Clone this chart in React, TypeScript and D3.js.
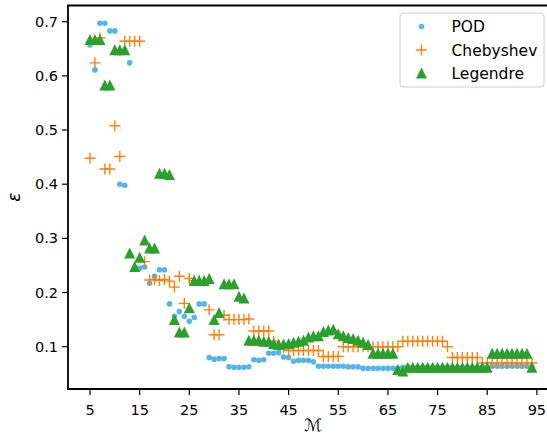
import React from "react";
import * as d3 from "d3";

const M = [5,6,7,8,9,10,11,12,13,14,15,16,17,18,19,20,21,22,23,24,25,26,27,28,29,30,31,32,33,34,35,36,37,38,39,40,41,42,43,44,45,46,47,48,49,50,51,52,53,54,55,56,57,58,59,60,61,62,63,64,65,66,67,68,69,70,71,72,73,74,75,76,77,78,79,80,81,82,83,84,85,86,87,88,89,90,91,92,93,94];

const POD = [0.657,0.611,0.697,0.697,0.683,0.683,0.400,0.398,0.624,0.245,
  0.245,0.247,0.217,0.230,0.242,0.242,0.179,0.156,0.165,0.156,
  0.147,0.154,0.179,0.179,0.080,0.077,0.078,0.078,0.063,0.062,
  0.062,0.062,0.063,0.076,0.075,0.076,0.088,0.088,0.089,0.081,
  0.080,0.073,0.075,0.075,0.075,0.072,0.064,0.064,0.064,0.064,
  0.064,0.064,0.063,0.063,0.063,0.060,0.060,0.060,0.060,0.060,
  0.060,0.060,0.060,0.062,0.062,0.062,0.062,0.062,0.062,0.062,
  0.062,0.062,0.062,0.062,0.062,0.062,0.062,0.062,0.062,0.062,
  0.062,0.064,0.064,0.064,0.064,0.064,0.064,0.064,0.064,0.063];

const CHEB = [0.448,0.624,0.670,0.428,0.428,0.508,0.451,0.664,0.664,0.664,
  0.664,0.257,0.223,0.224,0.222,0.224,0.221,0.210,0.230,0.180,
  0.226,0.222,0.222,0.221,0.168,0.122,0.122,0.158,0.150,0.150,
  0.150,0.150,0.151,0.129,0.129,0.129,0.129,0.110,0.104,0.098,
  0.093,0.093,0.093,0.093,0.093,0.093,0.093,0.082,0.082,0.082,
  0.082,0.100,0.100,0.100,0.100,0.100,0.100,0.100,0.100,0.100,
  0.100,0.100,0.100,0.110,0.110,0.110,0.110,0.110,0.110,0.110,
  0.110,0.110,0.100,0.080,0.080,0.080,0.080,0.080,0.080,0.070,
  0.070,0.070,0.070,0.070,0.070,0.070,0.070,0.070,0.070,0.070];

const LEG = [0.667,0.667,0.667,0.583,0.583,0.648,0.648,0.648,0.273,0.248,
  0.265,0.297,0.282,0.282,0.420,0.420,0.418,0.150,0.127,0.127,
  0.172,0.222,0.222,0.222,0.226,0.150,0.163,0.216,0.216,0.216,
  0.193,0.190,0.112,0.112,0.112,0.110,0.110,0.106,0.104,0.105,
  0.106,0.108,0.110,0.112,0.118,0.120,0.120,0.128,0.131,0.132,
  0.124,0.120,0.117,0.115,0.112,0.108,0.104,0.088,0.088,0.088,
  0.088,0.088,0.058,0.055,0.062,0.062,0.062,0.062,0.062,0.062,
  0.062,0.062,0.062,0.062,0.062,0.062,0.062,0.062,0.062,0.062,
  0.062,0.088,0.088,0.088,0.088,0.088,0.088,0.088,0.088,0.062];

const X_TICKS = [5,15,25,35,45,55,65,75,85,95];
const Y_TICKS = [0.1,0.2,0.3,0.4,0.5,0.6,0.7];
const LABELS = ["POD","Chebyshev","Legendre"];

const BLUE = "#56B4E9";
const ORANGE = "#ff7f0e";
const GREEN = "#2ca02c";
const FONT = "DejaVu Sans";

const W = 547, H = 437;
const left = 68, top = 5.5, bottom = 389, right = 554;

export default function App() {
  const x = d3.scaleLinear().domain([0.57, 98.45]).range([left, right]);
  const y = d3.scaleLinear().domain([0.0219, 0.7299]).range([bottom, top]);
  const tri = (cx: number, cy: number, s: number) =>
    `M${cx},${cy - s}L${cx + s},${cy + s}L${cx - s},${cy + s}Z`;
  const plus = (cx: number, cy: number, s: number) =>
    `M${cx - s},${cy}H${cx + s}M${cx},${cy - s}V${cy + s}`;

  const lgX = 421.5;
  const lgRows = [26.5, 50, 73];
  return (
    <svg width={W} height={H} style={{ position: "absolute", left: 0, top: 0, background: "#fff" }} fontFamily={FONT}>
      <defs>
        <clipPath id="plot">
          <rect x={left} y={top} width={W - left} height={bottom - top} />
        </clipPath>
      </defs>
      <g clipPath="url(#plot)">
        {M.map((m, i) => (
          <circle key={"p" + i} cx={x(m)} cy={y(POD[i])} r={2.8} fill={BLUE} />
        ))}
        {M.map((m, i) => (
          <path key={"c" + i} d={plus(x(m), y(CHEB[i]), 5.5)} stroke={ORANGE} strokeWidth={1.4} fill="none" />
        ))}
        {M.map((m, i) => (
          <path key={"l" + i} d={tri(x(m), y(LEG[i]), 5.5)} fill={GREEN} />
        ))}
      </g>
      {/* spines */}
      <line x1={left} x2={left} y1={top} y2={bottom} stroke="#000" strokeWidth={1.8} />
      <line x1={left - 0.9} x2={W} y1={bottom} y2={bottom} stroke="#000" strokeWidth={1.8} />
      <line x1={left - 0.9} x2={W} y1={top} y2={top} stroke="#000" strokeWidth={1.8} />
      {/* x ticks */}
      {X_TICKS.map((t) => (
        <g key={"xt" + t}>
          <line x1={x(t)} x2={x(t)} y1={bottom} y2={bottom + 6} stroke="#000" strokeWidth={1.2} />
          <text x={x(t)} y={bottom + 26} fontSize={14.5} textAnchor="middle">{t}</text>
        </g>
      ))}
      {Y_TICKS.map((t) => (
        <g key={"yt" + t}>
          <line x1={left - 6} x2={left} y1={y(t)} y2={y(t)} stroke="#000" strokeWidth={1.2} />
          <text x={left - 10} y={y(t) + 5} fontSize={14.5} textAnchor="end">{t.toFixed(1)}</text>
        </g>
      ))}
      <text x={x(50)} y={431} fontSize={17} textAnchor="middle" fontStyle="italic">ℳ</text>
      <text transform={`translate(20,${(top + bottom) / 2}) rotate(-90)`} fontSize={17} fontStyle="italic" textAnchor="middle">ε</text>
      {/* legend */}
      <rect x={400} y={13} width={144} height={74} rx={3} fill="#fff" fillOpacity={0.8} stroke="#ccc" strokeWidth={1} />
      <circle cx={lgX} cy={lgRows[0]} r={2.8} fill={BLUE} />
      <path d={plus(lgX, lgRows[1], 5.5)} stroke={ORANGE} strokeWidth={1.4} fill="none" />
      <path d={tri(lgX, lgRows[2], 5.5)} fill={GREEN} />
      {LABELS.map((l, i) => (
        <text key={l} x={451.5} y={lgRows[i] + 5.5} fontSize={15.5}>{l}</text>
      ))}
    </svg>
  );
}
